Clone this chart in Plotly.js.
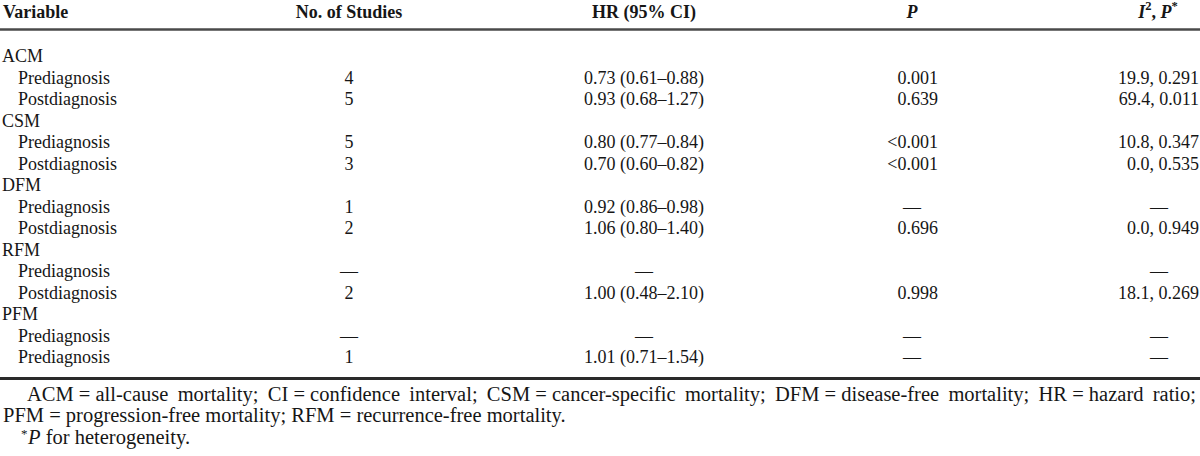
<!DOCTYPE html>
<html>
<head>
<meta charset="utf-8">
<script src="https://cdn.plot.ly/plotly-3.0.1.min.js"></script>
<style>html,body{margin:0;padding:0;background:#fff;}#chart{width:1200px;height:456px;}</style>
</head>
<body>
<div id="chart"></div>
<script>
// ---- data ----
const headers = ['Variable', 'No. of Studies', 'HR (95% CI)', '<i>P</i>', '<i>I</i><sup>2</sup>, <i>P</i><sup>*</sup>'];
const variables = ['ACM', 'Prediagnosis', 'Postdiagnosis', 'CSM', 'Prediagnosis', 'Postdiagnosis', 'DFM', 'Prediagnosis', 'Postdiagnosis', 'RFM', 'Prediagnosis', 'Postdiagnosis', 'PFM', 'Prediagnosis', 'Prediagnosis'];
const isGroup = [true, false, false, true, false, false, true, false, false, true, false, false, true, false, false];
const nStudies = ['', '4', '5', '', '5', '3', '', '1', '2', '', '—', '2', '', '—', '1'];
const hrCI = ['', '0.73 (0.61–0.88)', '0.93 (0.68–1.27)', '', '0.80 (0.77–0.84)', '0.70 (0.60–0.82)', '', '0.92 (0.86–0.98)', '1.06 (0.80–1.40)', '', '—', '1.00 (0.48–2.10)', '', '—', '1.01 (0.71–1.54)'];
const pValues = ['', '0.001', '0.639', '', '<0.001', '<0.001', '', '—', '0.696', '', '', '0.998', '', '—', '—'];
const i2P = ['', '19.9, 0.291', '69.4, 0.011', '', '10.8, 0.347', '0.0, 0.535', '', '—', '0.0, 0.949', '', '—', '18.1, 0.269', '', '—', '—'];
const footLine1 = ['ACM = all-cause', 'mortality;', 'CI = confidence', 'interval;', 'CSM = cancer-specific', 'mortality;', 'DFM = disease-free', 'mortality;', 'HR = hazard', 'ratio;'];
const footLine2 = 'PFM = progression-free mortality; RFM = recurrence-free mortality.';
const footMark = '*';
const footLine3 = '<i>P</i> for heterogeneity.';

// ---- styling / layout ----
const FAMILY = '"Liberation Serif", "Times New Roman", Times, serif';
const FS = 18;
const FS_FOOT = 20.5;
const COLOR = '#161616';
const headerY = 13.5;
const row0Y = 57.5, rowStep = 21.5;
const rowY = variables.map((v, i) => row0Y + rowStep * i);
const esc = s => s.replace(/&/g, '&amp;').replace(/</g, '&lt;');
const isDash = s => s === '—';

function textTrace(xs, ys, texts, positions, size, bold) {
  const keep = texts.map((t, i) => t !== '' ? i : -1).filter(i => i >= 0);
  return {
    type: 'scatter', mode: 'text',
    x: keep.map(i => xs[i]), y: keep.map(i => ys[i]),
    text: keep.map(i => bold ? '<b>' + texts[i] + '</b>' : texts[i]),
    textposition: keep.map(i => positions[i]),
    textfont: {family: FAMILY, size: size || FS, color: COLOR},
    hoverinfo: 'skip', showlegend: false, cliponaxis: false
  };
}

const traces = [];
// header
const headerX = [3, 349, 644, 912, 1158];
const headerPos = ['middle right', 'middle center', 'middle center', 'middle center', 'middle center'];
traces.push(textTrace(headerX, headerX.map(() => headerY), headers, headerPos, FS, true));
// variable column
traces.push(textTrace(variables.map((v, i) => isGroup[i] ? 2 : 18), rowY, variables, variables.map(() => 'middle right')));
// No. of studies
traces.push(textTrace(nStudies.map(() => 349), rowY, nStudies, nStudies.map(() => 'middle center')));
// HR
traces.push(textTrace(hrCI.map(() => 644), rowY, hrCI, hrCI.map(() => 'middle center')));
// P
traces.push(textTrace(pValues.map(s => isDash(s) ? 912 : 938), rowY, pValues.map(esc), pValues.map(s => isDash(s) ? 'middle center' : 'middle left')));
// I2, P
traces.push(textTrace(i2P.map(s => isDash(s) ? 1159 : 1199), rowY, i2P, i2P.map(s => isDash(s) ? 'middle center' : 'middle left')));

// footnote line 1 (justified between left and right edges)
const cv = document.createElement('canvas').getContext('2d');
cv.font = FS_FOOT + 'px ' + FAMILY;
const widths = footLine1.map(w => cv.measureText(w).width);
const left = 27, right = 1196;
const gap = (right - left - widths.reduce((a, b) => a + b, 0)) / (footLine1.length - 1);
const fx = [];
let cx = left;
widths.forEach(w => { fx.push(cx); cx += w + gap; });
traces.push(textTrace(fx, fx.map(() => 395.5), footLine1, fx.map(() => 'middle right'), FS_FOOT));
traces.push(textTrace([3], [416.5], [footLine2], ['middle right'], FS_FOOT));
traces.push(textTrace([21], [434.5], [footMark], ['middle right'], 13));
traces.push(textTrace([28], [438.5], [footLine3], ['middle right'], FS_FOOT));

const layout = {
  width: 1200, height: 456,
  margin: {l: 0, r: 0, t: 0, b: 0, pad: 0},
  paper_bgcolor: '#ffffff', plot_bgcolor: '#ffffff',
  xaxis: {range: [0, 1200], visible: false, fixedrange: true},
  yaxis: {range: [456, 0], visible: false, fixedrange: true},
  showlegend: false, hovermode: false,
  shapes: [
    {type: 'line', xref: 'x', yref: 'y', x0: 0, x1: 1200, y0: 29.5, y1: 29.5, line: {color: '#4a4a4a', width: 2.5}},
    {type: 'line', xref: 'x', yref: 'y', x0: 0, x1: 1200, y0: 378.5, y1: 378.5, line: {color: '#2a2a2a', width: 3}}
  ]
};
Plotly.newPlot('chart', traces, layout, {staticPlot: true, displayModeBar: false});
</script>
</body>
</html>
